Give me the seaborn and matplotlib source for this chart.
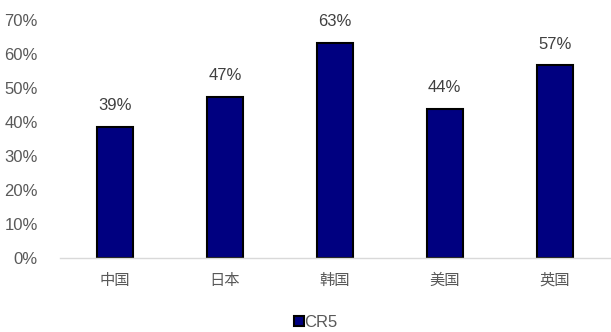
import matplotlib
matplotlib.use("Agg")
import matplotlib.pyplot as plt
import seaborn as sns
import pandas as pd
from matplotlib.ticker import PercentFormatter

categories = ["中国", "日本", "韩国", "美国", "英国"]
values = [0.386, 0.473, 0.632, 0.438, 0.566]
labels = ["39%", "47%", "63%", "44%", "57%"]
series_name = "CR5"

sns.set_theme(style="white")
plt.rcParams['font.family'] = ['Liberation Sans', 'Noto Sans CJK SC', 'DejaVu Sans']

df = pd.DataFrame({"country": categories, "value": values, "series": series_name})

fig = plt.figure(figsize=(6.11, 3.32), dpi=100)
ax = fig.add_axes([0.098, 0.223, 0.90, 0.717])
sns.barplot(data=df, x="country", y="value", hue="series", ax=ax,
            palette=["#000080"], saturation=1, edgecolor="black", linewidth=1.5, width=0.33)

ax.set_ylim(0, 0.70)
ax.set_yticks([i / 10 for i in range(8)])
ax.yaxis.set_major_formatter(PercentFormatter(1.0, decimals=0))
ax.tick_params(axis="y", labelsize=12, colors="#595959", length=0, pad=16)
ax.tick_params(axis="x", labelsize=11, colors="#595959", length=0, pad=10)
for lab in ax.get_xticklabels():
    lab.set_fontfamily(['Noto Sans CJK SC', 'DejaVu Sans'])
    lab.set_fontweight('light')
ax.set_xlabel("")
ax.set_ylabel("")
for s in ["top", "right", "left"]:
    ax.spines[s].set_visible(False)
ax.spines["bottom"].set_color("#d9d9d9")
ax.spines["bottom"].set_linewidth(1)

for cont in ax.containers:
    ax.bar_label(cont, labels=labels, padding=10, fontsize=12, color="#404040")

leg = ax.legend(loc="center", bbox_to_anchor=(0.465, -0.27), frameon=False,
                fontsize=12, handlelength=0.6, handleheight=0.6, handletextpad=0.05,
                borderpad=0.1)
for t in leg.get_texts():
    t.set_color("#595959")

fig.savefig("out.png", dpi=100)
